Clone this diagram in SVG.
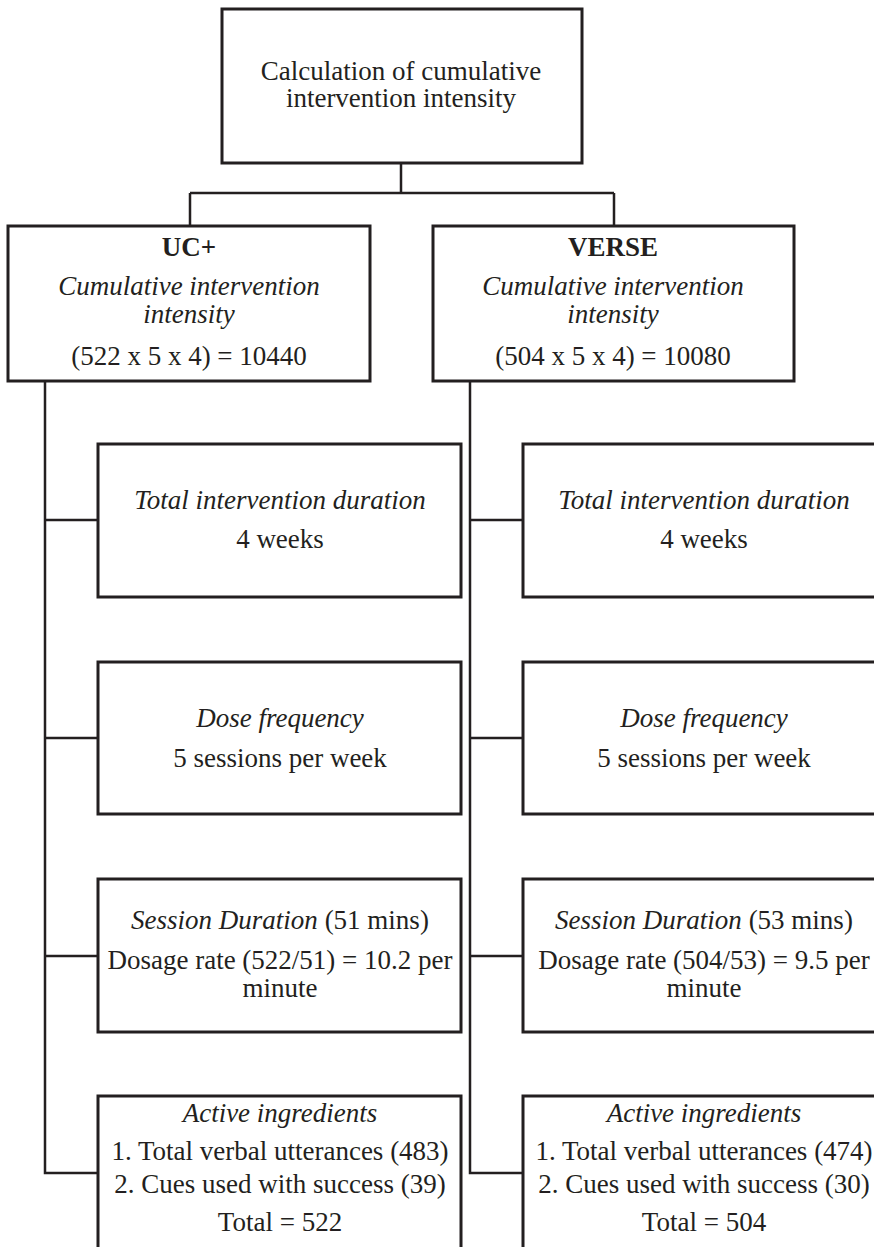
<svg xmlns="http://www.w3.org/2000/svg" width="874" height="1247" viewBox="0 0 874 1247">
<style>
.box{fill:#fff;stroke:#231f20;stroke-width:3}
.con{fill:none;stroke:#231f20;stroke-width:2.5}
text{font-family:"Liberation Serif","Times New Roman",serif;font-size:27px;fill:#231f20;text-anchor:middle}
.i{font-style:italic}
.b{font-weight:bold}
</style>
<rect width="874" height="1247" fill="#fff"/>
<g id="connectors">
<path class="con" d="M401 163V193M190 193H614M190 193V226M614 193V226"/>
<path class="con" d="M45 381V1173H98M45 520H98M45 738H98M45 956H98"/>
<path class="con" d="M470 381V1173H523M470 520H523M470 738H523M470 956H523"/>
</g>
<g id="root">
<rect class="box" x="222" y="9" width="360" height="154"/>
<text x="401" y="80">Calculation of cumulative</text>
<text x="401" y="107">intervention intensity</text>
</g>
<g id="ucplus">
<rect class="box" x="8" y="226" width="362" height="155"/>
<text class="b" x="189" y="256">UC+</text>
<text class="i" x="189" y="295">Cumulative intervention</text>
<text class="i" x="189" y="323">intensity</text>
<text x="189" y="365">(522 x 5 x 4) = 10440</text>
</g>
<g id="verse">
<rect class="box" x="433" y="226" width="361" height="155"/>
<text class="b" x="613" y="256">VERSE</text>
<text class="i" x="613" y="295">Cumulative intervention</text>
<text class="i" x="613" y="323">intensity</text>
<text x="613" y="365">(504 x 5 x 4) = 10080</text>
</g>
<g id="uc-duration">
<rect class="box" x="98" y="444" width="363" height="153"/>
<text class="i" x="280" y="509">Total intervention duration</text>
<text x="280" y="548">4 weeks</text>
</g>
<g id="uc-frequency">
<rect class="box" x="98" y="662" width="363" height="152"/>
<text class="i" x="280" y="727">Dose frequency</text>
<text x="280" y="767">5 sessions per week</text>
</g>
<g id="uc-session">
<rect class="box" x="98" y="879" width="363" height="153"/>
<text x="280" y="929"><tspan class="i">Session Duration</tspan> (51 mins)</text>
<text x="280" y="969">Dosage rate (522/51) = 10.2 per</text>
<text x="280" y="997">minute</text>
</g>
<g id="uc-active">
<rect class="box" x="98" y="1096" width="363" height="170"/>
<text class="i" x="280" y="1122">Active ingredients</text>
<text x="280" y="1160">1. Total verbal utterances (483)</text>
<text x="280" y="1193">2. Cues used with success (39)</text>
<text x="280" y="1231">Total = 522</text>
</g>
<g id="verse-duration">
<rect class="box" x="523" y="444" width="363" height="153"/>
<text class="i" x="704" y="509">Total intervention duration</text>
<text x="704" y="548">4 weeks</text>
</g>
<g id="verse-frequency">
<rect class="box" x="523" y="662" width="363" height="152"/>
<text class="i" x="704" y="727">Dose frequency</text>
<text x="704" y="767">5 sessions per week</text>
</g>
<g id="verse-session">
<rect class="box" x="523" y="879" width="363" height="153"/>
<text x="704" y="929"><tspan class="i">Session Duration</tspan> (53 mins)</text>
<text x="704" y="969">Dosage rate (504/53) = 9.5 per</text>
<text x="704" y="997">minute</text>
</g>
<g id="verse-active">
<rect class="box" x="523" y="1096" width="363" height="170"/>
<text class="i" x="704" y="1122">Active ingredients</text>
<text x="704" y="1160">1. Total verbal utterances (474)</text>
<text x="704" y="1193">2. Cues used with success (30)</text>
<text x="704" y="1231">Total = 504</text>
</g>
</svg>
